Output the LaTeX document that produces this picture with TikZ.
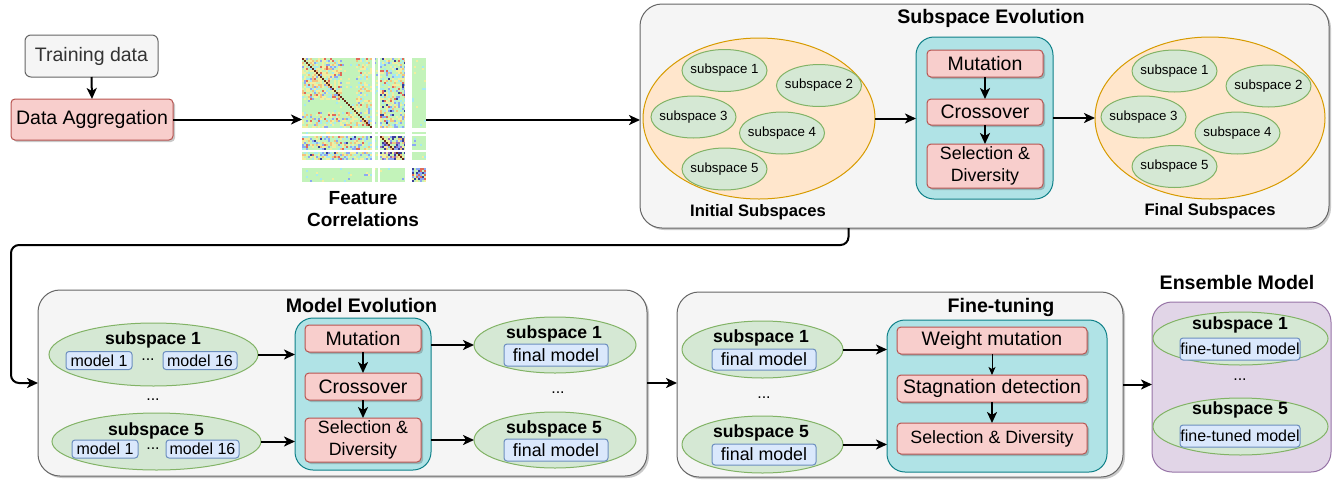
\documentclass[tikz,border=0pt]{standalone}
\usepackage{fontspec}
\setmainfont{Liberation Sans}
\usetikzlibrary{shapes.geometric,arrows.meta,shadows}

\definecolor{grayF}{HTML}{F5F5F5}
\definecolor{grayD}{HTML}{666666}
\definecolor{txtG}{HTML}{333333}
\definecolor{redF}{HTML}{F8CECC}
\definecolor{redD}{HTML}{B85450}
\definecolor{tealF}{HTML}{B0E3E6}
\definecolor{tealD}{HTML}{0E8088}
\definecolor{orgF}{HTML}{FFE6CC}
\definecolor{orgD}{HTML}{D79B00}
\definecolor{grnF}{HTML}{D5E8D4}
\definecolor{grnD}{HTML}{82B366}
\definecolor{bluF}{HTML}{DAE8FC}
\definecolor{bluD}{HTML}{6C8EBF}
\definecolor{purF}{HTML}{E1D5E7}
\definecolor{purD}{HTML}{9673A6}
% correlation heatmap palette
\definecolor{hmG}{HTML}{C3F3BA}
\definecolor{hmY}{HTML}{F2EEA0}
\definecolor{hmO}{HTML}{F3C27E}
\definecolor{hmR}{HTML}{E06A5A}
\definecolor{hmB}{HTML}{8CA8F2}
\definecolor{hmC}{HTML}{A6E9F2}
\definecolor{hmN}{HTML}{3A3F9A}
\definecolor{hmP}{HTML}{9A6AB8}
\definecolor{hmD}{HTML}{6B2A1A}

\tikzset{
  every node/.style={inner sep=0pt, outer sep=0pt},
  tA/.style={font=\fontsize{19.5}{22.5}\selectfont},
  tB/.style={font=\fontsize{17.8}{21.5}\selectfont},
  tS/.style={font=\fontsize{13.3}{16}\selectfont},
  tM/.style={font=\fontsize{16}{19}\selectfont},
  tH/.style={font=\fontsize{19.6}{22}\selectfont\bfseries},
  tL/.style={font=\fontsize{16.6}{20}\selectfont\bfseries},
  tK/.style={font=\fontsize{17.6}{20}\selectfont\bfseries},
  shd/.style={drop shadow={shadow xshift=2pt, shadow yshift=-2pt, opacity=0.3, fill=black!70}},
  graybox/.style={draw=grayD, fill=grayF, rounded corners=6pt, line width=1pt},
  panel/.style={draw=grayD, fill=grayF, rounded corners=22pt, line width=1pt, shd},
  proc/.style={draw=redD, fill=redF, rounded corners=4pt, line width=1pt, shd},
  evo/.style={draw=tealD, fill=tealF, rounded corners=18pt, line width=1pt},
  pool/.style={ellipse, draw=orgD, fill=orgF, line width=1pt},
  sub/.style={ellipse, draw=grnD, fill=grnF, line width=1pt},
  mdl/.style={draw=bluD, fill=bluF, rounded corners=3pt, line width=1pt},
  ens/.style={draw=purD, fill=purF, rounded corners=20pt, line width=1pt},
  arr/.style={line width=2pt, -{Stealth[length=11pt,width=10pt,inset=3pt]}},
  arrthin/.style={line width=1pt, -{Stealth[length=8pt,width=7pt,inset=2pt]}},
}

% small subspace ellipse with its label
\newcommand\subell[4]{%
  \node[sub, minimum width=85pt, minimum height=42pt] (#1) at (#2,#3) {};
  \node[tS] (#1t) at (#1) {#4};}

\begin{document}
\begin{tikzpicture}[x=1pt,y=-1pt]
\useasboundingbox (0,0) rectangle (1334,480);

% ---------- input stage ----------
\node[graybox, tA, text=txtG, minimum width=133pt, minimum height=42pt] (train) at (91.5,56) {Training data};
\node[proc, tA, minimum width=162pt, minimum height=41pt] (agg) at (92,119.5) {Data Aggregation};

% ---------- feature correlation heatmap (2pt cells) ----------
\fill[hmG] (302,58) rectangle (426,182);
\pgfmathsetseed{2718}
\foreach \hi in {0,...,61}{
  \foreach \hj in {0,...,61}{
    \pgfmathrandominteger{\hmr}{0}{199}
    \pgfmathtruncatemacro{\hmz}{ifthenelse(and(\hi<20,\hj<21),1,
      ifthenelse(and(and(\hi>38,\hi<52),and(\hj>38,\hj<52)),4,
      ifthenelse(and(\hi>54,\hj>54),5,
      ifthenelse(or(and(\hi<35,and(\hj>38,\hj<52)),and(\hj<35,and(\hi>38,\hi<52))),3,
      ifthenelse(or(and(\hi<35,and(\hj>26,\hj<35)),and(\hj<35,and(\hi>26,\hi<35))),2,0)))))}
    \def\hmc{}
    \ifcase\hmz
      \ifnum\hmr<6 \def\hmc{hmY}\else\ifnum\hmr<11 \def\hmc{hmC}\else\ifnum\hmr<14 \def\hmc{hmB}\fi\fi\fi
    \or
      \ifnum\hmr<60 \def\hmc{hmY}\else\ifnum\hmr<84 \def\hmc{hmO}\else\ifnum\hmr<96 \def\hmc{hmR}\else\ifnum\hmr<108 \def\hmc{hmB}\else\ifnum\hmr<128 \def\hmc{hmC}\fi\fi\fi\fi\fi
    \or
      \ifnum\hmr<40 \def\hmc{hmY}\else\ifnum\hmr<56 \def\hmc{hmO}\else\ifnum\hmr<72 \def\hmc{hmB}\else\ifnum\hmr<92 \def\hmc{hmC}\else\ifnum\hmr<98 \def\hmc{hmR}\fi\fi\fi\fi\fi
    \or
      \ifnum\hmr<36 \def\hmc{hmY}\else\ifnum\hmr<52 \def\hmc{hmO}\else\ifnum\hmr<76 \def\hmc{hmB}\else\ifnum\hmr<100 \def\hmc{hmC}\else\ifnum\hmr<108 \def\hmc{hmN}\else\ifnum\hmr<116 \def\hmc{hmR}\fi\fi\fi\fi\fi\fi
    \or
      \ifnum\hmr<36 \def\hmc{hmN}\else\ifnum\hmr<60 \def\hmc{hmP}\else\ifnum\hmr<90 \def\hmc{hmO}\else\ifnum\hmr<120 \def\hmc{hmY}\else\ifnum\hmr<140 \def\hmc{hmB}\else\ifnum\hmr<150 \def\hmc{hmR}\fi\fi\fi\fi\fi\fi
    \or
      \ifnum\hmr<50 \def\hmc{hmN}\else\ifnum\hmr<90 \def\hmc{hmR}\else\ifnum\hmr<130 \def\hmc{hmY}\else\ifnum\hmr<160 \def\hmc{hmB}\fi\fi\fi\fi
    \fi
    \ifx\hmc\empty\else\fill[\hmc] ({302+2*\hi},{58+2*\hj}) rectangle ++(2,2);\fi
  }
}
\foreach \hi in {0,...,34,39,40,...,51}
  \fill[hmD] ({302+2*\hi},{58+2*\hi}) rectangle ++(2,2);
\fill[white] (371.5,58) rectangle (374.5,182);
\fill[white] (377.5,58) rectangle (379.5,182);
\fill[white] (405,58) rectangle (412,182);
\fill[white] (302,128) rectangle (426,131.5);
\fill[white] (302,133.5) rectangle (426,135.5);
\fill[white] (302,150) rectangle (426,152);
\fill[white] (302,160) rectangle (426,167.5);
\node[minimum width=124pt, minimum height=124pt] (heat) at (364,120) {};
\node[align=center, font=\fontsize{19}{22}\selectfont\bfseries] (featlbl) at (363,209) {Feature\\Correlations};

% ---------- subspace evolution ----------
\node[panel, minimum width=689pt, minimum height=224pt] (subevo) at (984.5,116) {};
\node[tH] (subevoT) at (991,18) {Subspace Evolution};
\node[pool, minimum width=232pt, minimum height=161pt] (initp) at (759,118.5) {};
\subell{is1}{724.5}{70.5}{subspace 1}
\subell{is2}{819}{85.5}{subspace 2}
\subell{is3}{693.5}{117}{subspace 3}
\subell{is4}{782}{133}{subspace 4}
\subell{is5}{724.5}{169}{subspace 5}
\node[tL] (initL) at (758,212) {Initial Subspaces};

\node[evo, minimum width=137pt, minimum height=162pt] (evo1) at (984.5,118) {};
\node[proc, tA, minimum width=116pt, minimum height=27pt] (mut1) at (985,63.5) {Mutation};
\node[proc, tA, minimum width=116pt, minimum height=26pt] (cross1) at (985,112) {Crossover};
\node[proc, tB, align=center, minimum width=116pt, minimum height=44pt] (sel1) at (985,166) {Selection \&\\Diversity};

\node[pool, minimum width=230pt, minimum height=162pt] (finp) at (1210,118) {};
\subell{fs1}{1174.5}{71}{subspace 1}
\subell{fs2}{1268.5}{86}{subspace 2}
\subell{fs3}{1143.5}{117}{subspace 3}
\subell{fs4}{1237.5}{133}{subspace 4}
\subell{fs5}{1174.5}{166.5}{subspace 5}
\node[tL] (finL) at (1210,211) {Final Subspaces};

% ---------- model evolution ----------
\node[panel, minimum width=609pt, minimum height=186pt] (modevo) at (342.5,383) {};
\node[tH] (modevoT) at (361.5,305) {Model Evolution};

\node[sub, minimum width=209pt, minimum height=63pt] (me1) at (153.5,354.5) {};
\node[tK] (me1t) at (153,340) {subspace 1};
\node[mdl, tM, minimum width=66pt, minimum height=18pt] (me1a) at (99,360.5) {model 1};
\node[tM] (me1d) at (148,360) {...};
\node[mdl, tM, minimum width=74pt, minimum height=18pt] (me1b) at (200,360.5) {model 16};
\node[tM] (medots) at (153,400) {...};
\node[sub, minimum width=209pt, minimum height=57pt] (me5) at (156.5,441.5) {};
\node[tK] (me5t) at (156,431) {subspace 5};
\node[mdl, tM, minimum width=66pt, minimum height=18pt] (me5a) at (105,449) {model 1};
\node[tM] (me5d) at (153,449) {...};
\node[mdl, tM, minimum width=73pt, minimum height=18pt] (me5b) at (202.5,449) {model 16};

\node[evo, minimum width=136pt, minimum height=152pt] (evo2) at (363,394) {};
\node[proc, tA, minimum width=116pt, minimum height=27pt] (mut2) at (363,338.5) {Mutation};
\node[proc, tA, minimum width=116pt, minimum height=27pt] (cross2) at (363,386.5) {Crossover};
\node[proc, tB, align=center, minimum width=116pt, minimum height=44pt] (sel2) at (363,440) {Selection \&\\Diversity};

\node[sub, minimum width=162pt, minimum height=56pt] (r1) at (555,345) {};
\node[tK] (r1t) at (554,334) {subspace 1};
\node[mdl, tB, minimum width=104pt, minimum height=22pt] (r1m) at (556,355) {final model};
\node[tM] (rdots) at (558,393) {...};
\node[sub, minimum width=162pt, minimum height=56pt] (r5) at (555,440) {};
\node[tK] (r5t) at (554,429) {subspace 5};
\node[mdl, tB, minimum width=104pt, minimum height=22pt] (r5m) at (556,450) {final model};

% ---------- fine-tuning ----------
\node[panel, minimum width=446pt, minimum height=185pt] (finetune) at (900,384.5) {};
\node[tH] (finetuneT) at (1001,307) {Fine-tuning};

\node[sub, minimum width=161pt, minimum height=57pt] (f1) at (762.5,349.5) {};
\node[tK] (f1t) at (761,338) {subspace 1};
\node[mdl, tB, minimum width=104pt, minimum height=21pt] (f1m) at (764,359.5) {final model};
\node[tM] (fdots) at (764,398) {...};
\node[sub, minimum width=161pt, minimum height=57pt] (f5) at (762.5,444.5) {};
\node[tK] (f5t) at (761,433) {subspace 5};
\node[mdl, tB, minimum width=104pt, minimum height=21pt] (f5m) at (764,454.5) {final model};

\node[evo, minimum width=220pt, minimum height=152pt] (evo3) at (997,396) {};
\node[proc, tA, minimum width=190pt, minimum height=27pt] (wm) at (992,340.5) {Weight mutation};
\node[proc, tA, minimum width=190pt, minimum height=27pt] (stag) at (992,388.5) {Stagnation detection};
\node[proc, tB, minimum width=190pt, minimum height=31pt] (selF) at (992,438.5) {Selection \& Diversity};

% ---------- ensemble ----------
\node[tH] (ensT) at (1237,282) {Ensemble Model};
\node[ens, minimum width=179pt, minimum height=170pt] (ens) at (1241.5,387) {};
\node[sub, minimum width=175pt, minimum height=53pt] (e1) at (1240.5,338.5) {};
\node[tK] (e1t) at (1240,325) {subspace 1};
\node[mdl, tM, minimum width=120pt, minimum height=22pt] (e1m) at (1240,349) {fine-tuned model};
\node[tM] (edots) at (1240,380) {...};
\node[sub, minimum width=175pt, minimum height=57pt] (e5) at (1240.5,426.5) {};
\node[tK] (e5t) at (1240,410) {subspace 5};
\node[mdl, tM, minimum width=120pt, minimum height=22pt] (e5m) at (1240,436) {fine-tuned model};

% ---------- connectors ----------
\draw[arr] (train.south) -- (agg.north);
\draw[arr] (agg.east) -- (agg.east -| heat.west);
\draw[arr] (heat.east) -- (heat.east -| subevo.west);
\draw[arr] (initp.east) -- (initp.east -| evo1.west);
\draw[arr] (evo1.east |- finp.west) -- (finp.west);
\draw[arr] (mut1.south) -- (cross1.north);
\draw[arr] (cross1.south) -- (sel1.north);
\draw[arr, rounded corners=8pt] ([xshift=208.5pt]subevo.south west) -- ++(0,17) -| ([xshift=-27pt]modevo.west) -- (modevo.west);

\draw[arr] (me1.east) -- (me1.east -| evo2.west);
\draw[arr] (me5.east) -- (me5.east -| evo2.west);
\draw[arr] (mut2.south) -- (cross2.north);
\draw[arr] (cross2.south) -- (sel2.north);
\draw[arr] (evo2.east |- r1.west) -- (r1.west);
\draw[arr] (evo2.east |- r5.west) -- (r5.west);
\draw[arr] (modevo.east) -- (modevo.east -| finetune.west);

\draw[arr] (f1.east) -- (f1.east -| evo3.west);
\draw[arr] (f5.east) -- (f5.east -| evo3.west);
\draw[arrthin] (wm.south) -- (stag.north);
\draw[arr] (stag.south) -- (selF.north);
\draw[arr] (finetune.east) -- (finetune.east -| ens.west);
\end{tikzpicture}
\end{document}
